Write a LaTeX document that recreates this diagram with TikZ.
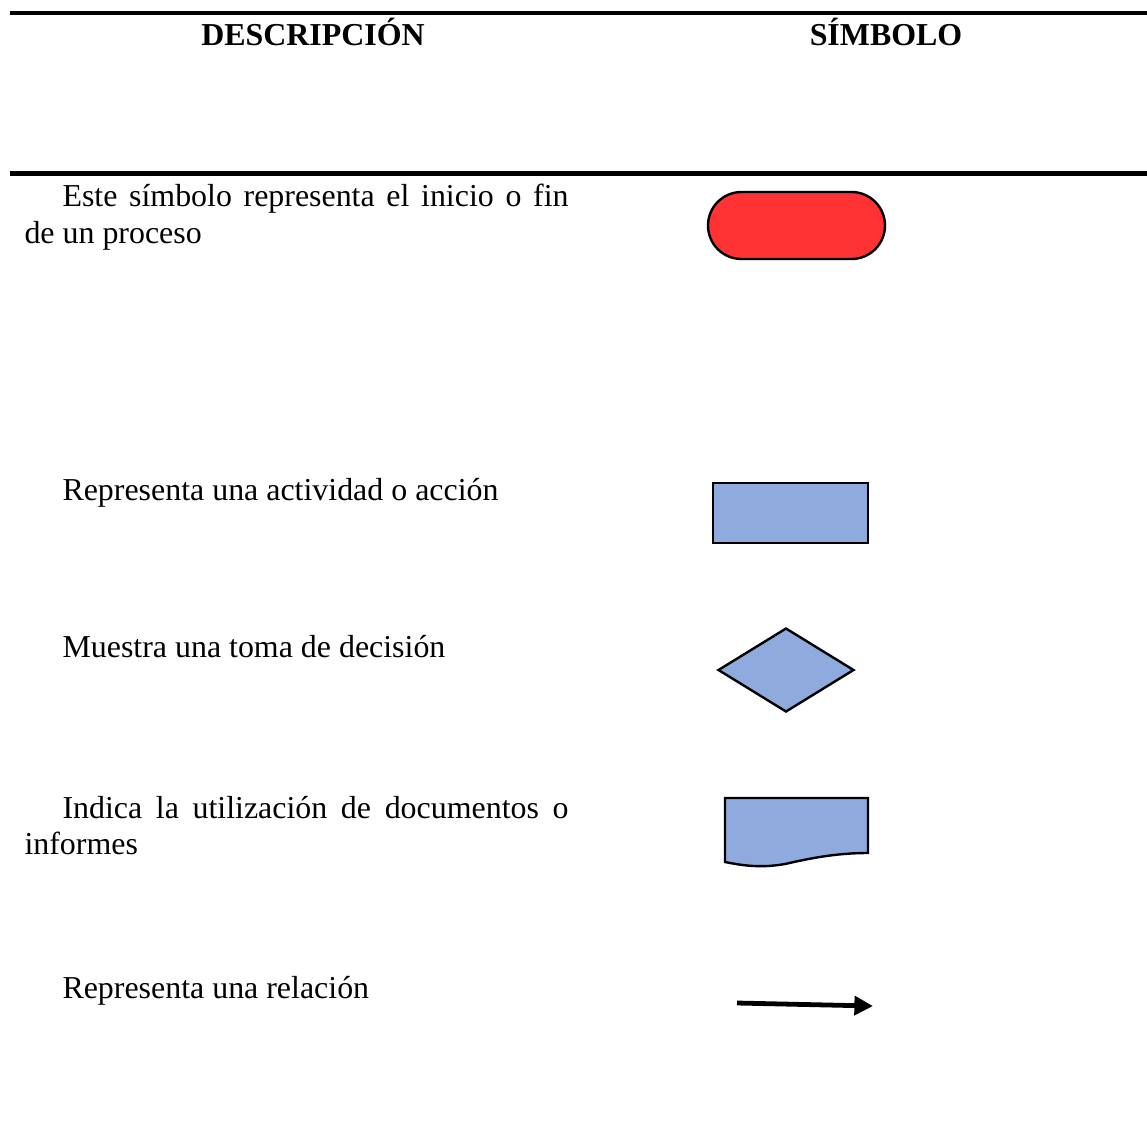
\documentclass[tikz,border=0pt]{standalone}
\usepackage{fontspec}
\setmainfont{Liberation Serif}
\usetikzlibrary{arrows.meta,shapes.geometric,shapes.misc}
\newlength\pxu \setlength\pxu{0.376pt}
\definecolor{termred}{RGB}{255,51,51}
\definecolor{shapeblue}{RGB}{143,170,220}
\begin{document}
\begin{tikzpicture}[x=0.376pt,y=-0.376pt,
  rule/.style={line width=1.6pt},
  head/.style={anchor=base,font=\fontsize{12}{14}\selectfont\bfseries,inner sep=0pt},
  desc/.style={anchor=base west,font=\fontsize{12}{14}\selectfont,inner sep=0pt},
  shp/.style={draw=black,line width=0.9pt,inner sep=0pt},
  termshape/.style={shp,rounded rectangle,fill=termred,minimum width=177\pxu,minimum height=67\pxu},
  actshape/.style={shp,rectangle,fill=shapeblue,minimum width=155\pxu,minimum height=60\pxu},
  decshape/.style={shp,diamond,fill=shapeblue,minimum width=136\pxu,minimum height=84\pxu},
  docshape/.style={draw=black,line width=0.9pt,fill=shapeblue,line join=miter},
  relarrow/.style={line width=1.8pt,-{Triangle[length=7pt,width=7pt]}}]
\useasboundingbox (0,0) rectangle (1147,1140);
% rules
\coordinate (r1a) at (10,12.7);
\coordinate (r1b) at (1147,12.7);
\coordinate (r2a) at (10,173.5);
\coordinate (r2b) at (1147,173.5);
\draw[rule] (r1a) -- (r1b);
\draw[rule] (r2a) -- (r2b);
% headers
\node[head] (hdesc) at (313,45) {DESCRIPCIÓN};
\node[head] (hsym) at (886,45) {SÍMBOLO};
% descriptions
\node[desc] (d1a) at (62,206) {\makebox[506\pxu][s]{Este símbolo representa el inicio o fin}};
\node[desc] (d1b) at (24,243) {de un proceso};
\node[desc] (d2) at (62,500) {Representa una actividad o acción};
\node[desc] (d3) at (62,657) {Muestra una toma de decisión};
\node[desc] (d4a) at (62,818) {\makebox[506\pxu][s]{Indica la utilización de documentos o}};
\node[desc] (d4b) at (24,854) {informes};
\node[desc] (d5) at (62,998) {Representa una relación};
% symbols
\node[termshape] (term) at (796.5,225.5) {};
\node[actshape] (act) at (790.5,513) {};
\node[decshape] (dec) at (786,670) {};
\draw[docshape] (725,798) -- (868,798) -- (868,853)
  .. controls (840,853) and (815,857) .. (785,864)
  .. controls (762,868) and (745,866) .. (725,862) -- cycle;
\coordinate (ra) at (737,1003);
\coordinate (rb) at (873,1006);
\draw[relarrow] (ra) -- (rb);
\end{tikzpicture}
\end{document}
